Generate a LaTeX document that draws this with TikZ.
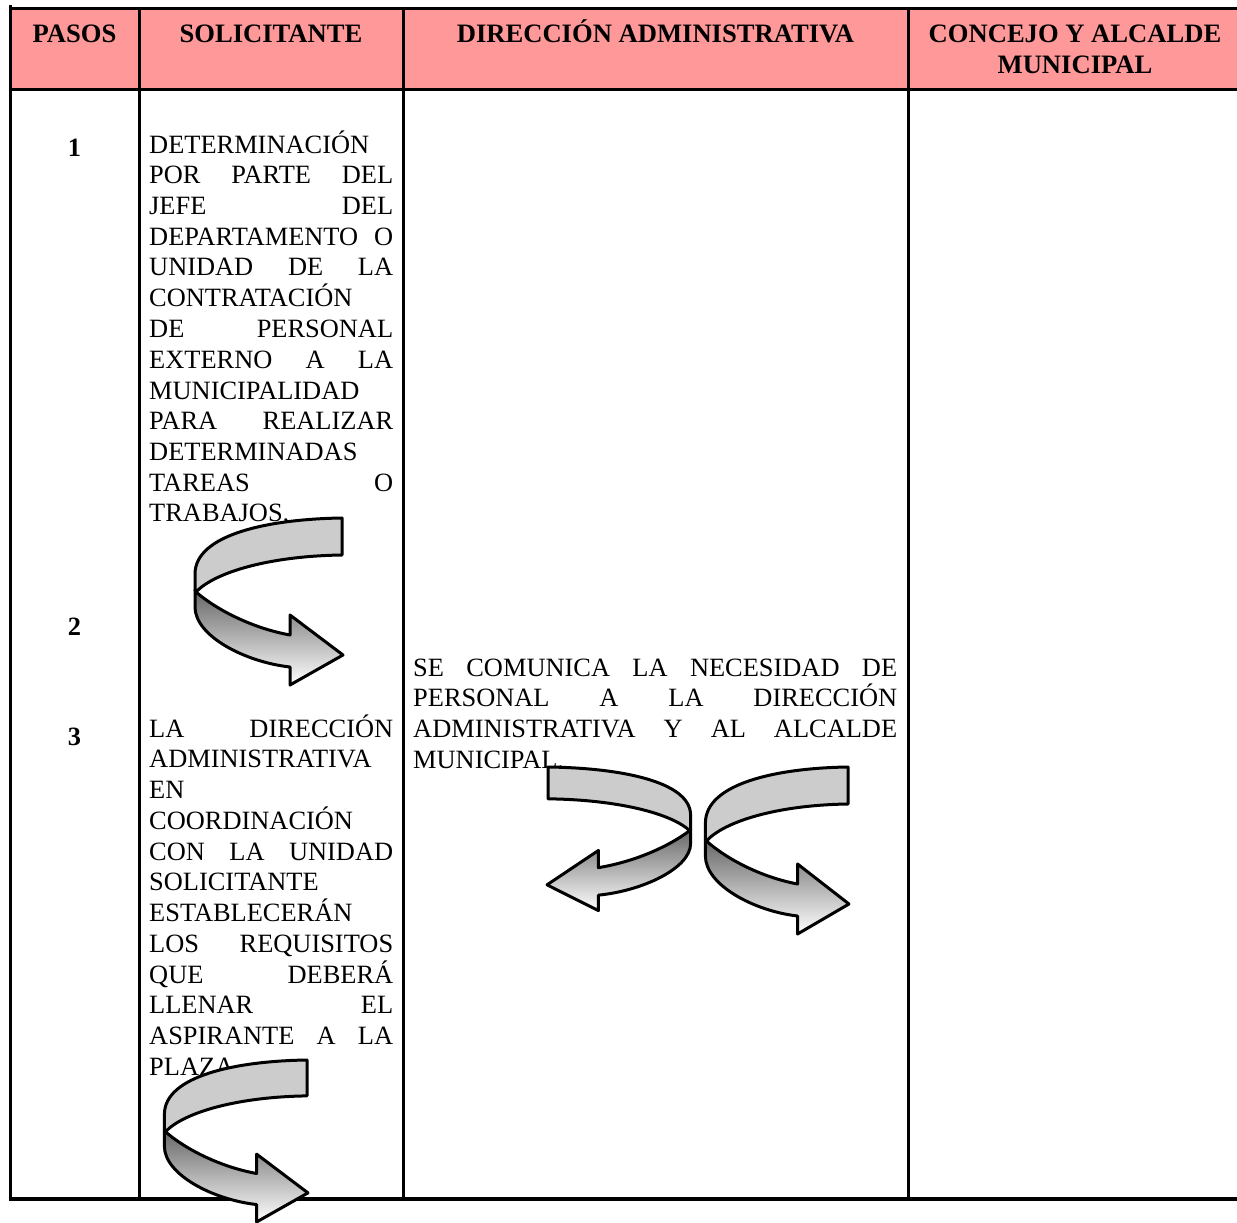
\documentclass[tikz,border=0pt]{standalone}
\usepackage{fontspec}
\setmainfont{Liberation Serif}
\definecolor{hdrfill}{RGB}{255,153,153}
\definecolor{ribbon}{RGB}{204,204,204}
\newcommand{\jline}[1]{\makebox[\linewidth][s]{#1}}
\tikzset{
  uarrow/.pic={
    \path[band] (0,0) .. controls (-72,1) and (-147,16) .. (-147,56) -- (-147,72) -- (-146,74)
      .. controls (-127,54) and (-72,38) .. (0,37) -- cycle;
    \path[shadeband] (-146,74) .. controls (-125,92) and (-90,110) .. (-52,117) -- (-52,97)
      -- (1,137) -- (-52,167) -- (-52,149) .. controls (-97,144) and (-147,118) .. (-147,89)
      -- (-147,72) -- cycle;
  }
}
\begin{document}
\begin{tikzpicture}[x=1pt,y=-1pt,
  tline/.style={line width=3pt},
  hdr/.style={font=\fontsize{26.6}{30.75}\selectfont\bfseries, inner sep=0pt, anchor=base},
  num/.style={font=\fontsize{26.4}{30.75}\selectfont\bfseries, inner sep=0pt, anchor=base},
  body/.style={font=\fontsize{26.4}{30.75}\selectfont, inner sep=0pt, anchor=base west},
  band/.style={fill=ribbon, draw=black, line width=3pt, line join=round},
  shadeband/.style={draw=black, line width=3pt, line join=round, top color=black!60, bottom color=white},
]
\useasboundingbox (0,0) rectangle (1237,1223);
% header band
\fill[hdrfill] (10,8.5) rectangle (1237,89);
% table lines
\draw[tline] (8.5,8.5) -- (1237,8.5);
\draw[tline] (10,89) -- (1237,89);
\draw[line width=4pt] (8.5,1199) -- (1237,1199);
\draw[tline] (10,5) -- (10,1199);
\draw[tline] (139,8.5) -- (139,1199);
\draw[tline] (403,8.5) -- (403,1199);
\draw[tline] (908,8.5) -- (908,1199);
% header texts
\node[hdr] (hPasos) at (74.5,43) {PASOS};
\node[hdr] (hSol) at (271,43) {SOLICITANTE};
\node[hdr] (hDir) at (655.5,43) {DIRECCIÓN ADMINISTRATIVA};
\node[hdr] (hCon) at (1075,43) {\parbox[t]{320pt}{\centering CONCEJO Y ALCALDE\\MUNICIPAL}};
% step numbers
\node[num] (n1) at (74.5,156) {1};
\node[num] (n2) at (74.5,635) {2};
\node[num] (n3) at (74.5,745) {3};
% body texts
\node[body] (t1) at (149,153) {\parbox[t]{244pt}{DETERMINACIÓN\\
  \jline{POR PARTE DEL}\\ \jline{JEFE DEL}\\ \jline{DEPARTAMENTO O}\\ \jline{UNIDAD DE LA}\\
  CONTRATACIÓN\\ \jline{DE PERSONAL}\\ \jline{EXTERNO A LA}\\ MUNICIPALIDAD\\
  \jline{PARA REALIZAR}\\ DETERMINADAS\\ \jline{TAREAS O}\\ TRABAJOS.}};
\node[body] (t2) at (413,676) {\parbox[t]{484pt}{\jline{SE COMUNICA LA NECESIDAD DE}\\
  \jline{PERSONAL A LA DIRECCIÓN}\\ \jline{ADMINISTRATIVA Y AL ALCALDE}\\ MUNICIPAL.}};
\node[body] (t3) at (149,737) {\parbox[t]{244pt}{\jline{LA DIRECCIÓN}\\ ADMINISTRATIVA\\ EN\\
  COORDINACIÓN\\ \jline{CON LA UNIDAD}\\ SOLICITANTE\\ ESTABLECERÁN\\ \jline{LOS REQUISITOS}\\
  \jline{QUE DEBERÁ}\\ \jline{LLENAR EL}\\ \jline{ASPIRANTE A LA}\\ PLAZA}};
% curved ribbon arrows
\pic (a1) at (342,518) {uarrow};
\pic[scale=0.97] (a3) at (307,1060) {uarrow};
\pic[xscale=0.97] (a2r) at (848,767) {uarrow};
\pic[xscale=-0.97,yscale=0.86] (a2l) at (548,767) {uarrow};
\end{tikzpicture}
\end{document}
